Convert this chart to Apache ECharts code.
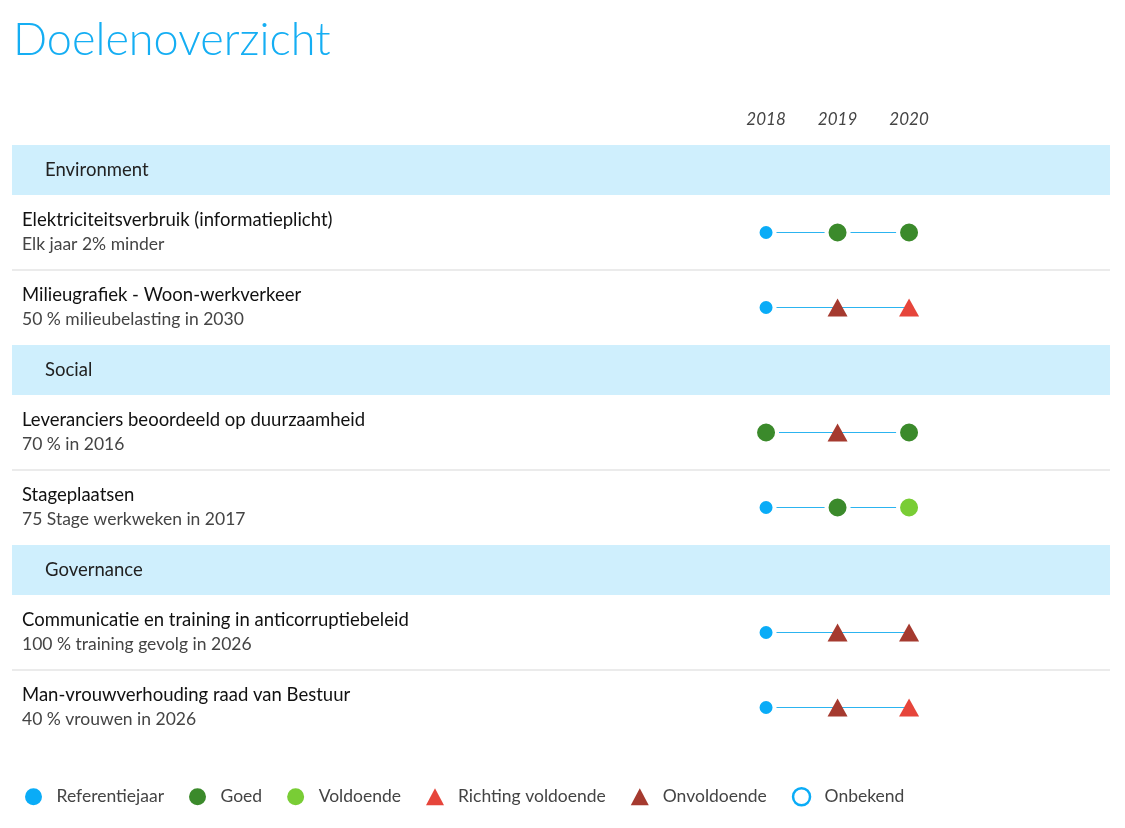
<!DOCTYPE html>
<html>
<head>
<meta charset="utf-8">
<title>Doelenoverzicht</title>
<script src="https://cdn.jsdelivr.net/npm/echarts@6/dist/echarts.min.js"></script>
<style>
  html, body { margin: 0; padding: 0; background: #fff; }
  #chart { width: 1125px; height: 828px; }
</style>
</head>
<body>
<div id="chart"></div>
<script>
// data
var sections = ['Environment', 'Social', 'Governance'];
var goalSection = [0, 0, 1, 1, 2, 2];
var goalTitles = [
    'Elektriciteitsverbruik (informatieplicht)',
    'Milieugrafiek - Woon-werkverkeer',
    'Leveranciers beoordeeld op duurzaamheid',
    'Stageplaatsen',
    'Communicatie en training in anticorruptiebeleid',
    'Man-vrouwverhouding raad van Bestuur'
];
var goalNotes = [
    'Elk jaar 2% minder',
    '50 % milieubelasting in 2030',
    '70 % in 2016',
    '75 Stage werkweken in 2017',
    '100 % training gevolg in 2026',
    '40 % vrouwen in 2026'
];
var years = [2018, 2019, 2020];
var goalStatus = [
    ['Referentiejaar', 'Goed', 'Goed'],
    ['Referentiejaar', 'Onvoldoende', 'Richting voldoende'],
    ['Goed', 'Onvoldoende', 'Goed'],
    ['Referentiejaar', 'Goed', 'Voldoende'],
    ['Referentiejaar', 'Onvoldoende', 'Onvoldoende'],
    ['Referentiejaar', 'Onvoldoende', 'Richting voldoende']
];
var statusNames = ['Referentiejaar', 'Goed', 'Voldoende', 'Richting voldoende', 'Onvoldoende', 'Onbekend'];

// styles per status
var statusStyle = {
    'Referentiejaar':     {symbol: 'circle',   size: 17,       color: '#0aacf7'},
    'Goed':               {symbol: 'circle',   size: 22,       color: '#3b8a2b'},
    'Voldoende':          {symbol: 'circle',   size: 22,       color: '#79cd35'},
    'Richting voldoende': {symbol: 'triangle', size: [20, 18], color: '#e6453b'},
    'Onvoldoende':        {symbol: 'triangle', size: [20, 18], color: '#a53a2f'},
    'Onbekend':           {symbol: 'circle',   size: 18,       color: '#ffffff', border: '#0aacf7'}
};

var FONT = 'Lato, "Source Sans Pro", sans-serif';
var HEAD_H = 50, ROW_H = 75;

// rows layout (header bands + goal rows)
var rows = [];
var goalMid = [];
var pos = 0;
sections.forEach(function (s, si) {
    rows.push({kind: 'head', text: s, from: pos, to: pos + HEAD_H, mid: pos + HEAD_H / 2});
    pos += HEAD_H;
    goalTitles.forEach(function (t, gi) {
        if (goalSection[gi] !== si) return;
        rows.push({kind: 'goal', idx: gi, from: pos, to: pos + ROW_H, mid: pos + ROW_H / 2});
        goalMid[gi] = pos + ROW_H / 2;
        pos += ROW_H;
    });
});
var total = pos;

var bands = rows.filter(function (r) { return r.kind === 'head'; }).map(function (r) {
    return [{yAxis: r.from}, {yAxis: r.to}];
});
var seps = [];
for (var i = 0; i < rows.length - 1; i++) {
    if (rows[i].kind === 'goal' && rows[i + 1].kind === 'goal') seps.push({yAxis: rows[i].to});
}

var series = [];
goalTitles.forEach(function (t, gi) {
    var s = {
        name: 'lijn' + gi,
        type: 'line',
        silent: true,
        symbol: 'none',
        z: 2,
        lineStyle: {color: '#2cb4f0', width: 1.2},
        data: years.map(function (yr) { return [yr, goalMid[gi]]; })
    };
    if (gi === 0) {
        s.markArea = {
            silent: true,
            itemStyle: {color: '#cfeffd'},
            data: bands
        };
        s.markLine = {
            silent: true,
            symbol: 'none',
            label: {show: false},
            lineStyle: {color: '#ebebeb', width: 2, type: 'solid'},
            data: seps
        };
    }
    series.push(s);
});

statusNames.forEach(function (name) {
    var st = statusStyle[name];
    var pts = [];
    goalStatus.forEach(function (row, gi) {
        row.forEach(function (v, k) {
            if (v === name) pts.push([years[k], goalMid[gi]]);
        });
    });
    var isCircle = st.symbol === 'circle';
    series.push({
        name: name,
        type: 'scatter',
        symbol: st.symbol,
        symbolSize: st.size,
        z: 5,
        itemStyle: {
            color: st.color,
            borderColor: st.border || '#ffffff',
            borderWidth: st.border ? 2.5 : (isCircle ? 4 : 0),
            opacity: 1
        },
        data: pts
    });
});

var chart = echarts.init(document.getElementById('chart'));
chart.setOption({
    animation: false,
    textStyle: {fontFamily: FONT},
    title: {
        text: 'Doelenoverzicht',
        left: 8,
        top: 13,
        textStyle: {
            fontFamily: '"Lato Light", Lato, sans-serif',
            fontWeight: 300,
            fontSize: 45,
            color: '#15aef3'
        }
    },
    legend: {
        left: 20,
        top: 782,
        itemWidth: 18,
        itemHeight: 17,
        itemGap: 25,
        textStyle: {fontSize: 17.5, color: '#444', fontFamily: FONT, padding: [0, 0, 0, 9]},
        data: statusNames.map(function (name) {
            var st = statusStyle[name];
            return {
                name: name,
                icon: st.symbol,
                itemStyle: st.border
                    ? {color: '#ffffff', borderColor: st.border, borderWidth: 2.5}
                    : {color: st.color, borderWidth: 0}
            };
        })
    },
    grid: {left: 12, right: 15, top: 145, bottom: 828 - 145 - total, containLabel: false},
    xAxis: {
        type: 'value',
        position: 'top',
        min: 2007.455,
        max: 2022.81,
        axisLine: {show: false},
        axisTick: {show: false},
        splitLine: {show: false},
        axisLabel: {
            customValues: years,
            margin: 17,
            fontSize: 17,
            fontStyle: 'italic',
            color: '#444',
            formatter: function (v) { return String(v); }
        }
    },
    yAxis: {
        type: 'value',
        inverse: true,
        min: 0,
        max: total,
        z: 10,
        axisLine: {show: false},
        axisTick: {show: false},
        splitLine: {show: false},
        axisLabel: {
            inside: true,
            margin: 10,
            customValues: rows.map(function (r) { return r.mid; }),
            formatter: function (v) {
                var r = rows.filter(function (x) { return Math.abs(x.mid - v) < 0.01; })[0];
                if (!r) return '';
                if (r.kind === 'head') return '{h|' + r.text + '}';
                return '{t|' + goalTitles[r.idx] + '}\n{s|' + goalNotes[r.idx] + '}';
            },
            rich: {
                h: {fontSize: 18.5, color: '#222', fontFamily: FONT, padding: [0, 0, 0, 23]},
                t: {fontSize: 18.5, color: '#111', fontFamily: FONT, lineHeight: 24},
                s: {fontSize: 17.5, color: '#444', fontFamily: FONT, lineHeight: 24}
            }
        }
    },
    series: series
});
</script>
</body>
</html>
